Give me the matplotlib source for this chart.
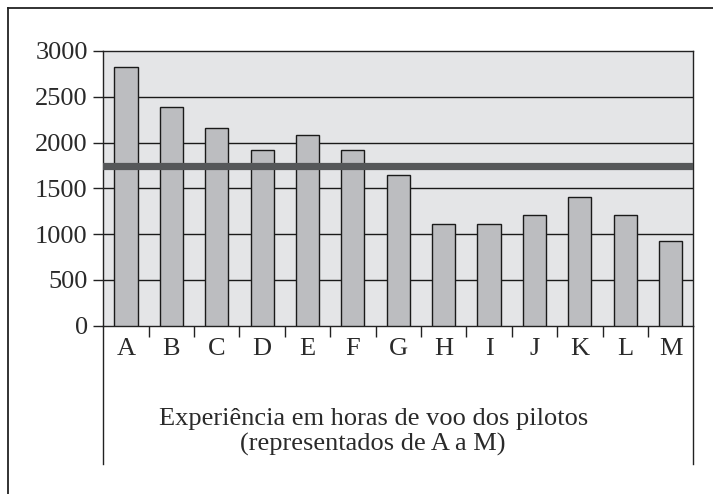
import matplotlib.pyplot as plt
from matplotlib.lines import Line2D
import numpy as np

# pilot flight hours
pilotos = ["A", "B", "C", "D", "E", "F", "G", "H", "I", "J", "K", "L", "M"]
horas = [2820, 2390, 2160, 1920, 2080, 1920, 1650, 1110, 1110, 1210, 1410, 1210, 920]
limite = 1740
y_ticks = [0, 500, 1000, 1500, 2000, 2500, 3000]
titulo = ["Experiência em horas de voo dos pilotos", "(representados de A a M)"]

plt.rcParams['font.family'] = ['Liberation Serif', 'DejaVu Serif']

W, H = 713, 494
fig = plt.figure(figsize=(W / 100, H / 100), dpi=100)
ax = fig.add_axes([103.3 / W, 1 - 325.7 / H, 590 / W, 274.7 / H])
ax.set_facecolor("#e4e5e7")

x = np.arange(len(pilotos))
ax.bar(x, horas, width=0.51, color="#bcbdc0", edgecolor="#1a1a1a", linewidth=1.0, zorder=3)
ax.axhline(limite, color="#555759", linewidth=5.2, zorder=4)

for v in y_ticks[1:-1]:
    ax.axhline(v, color="#1a1a1a", linewidth=1.0, zorder=1)

ax.set_xlim(-0.5, len(pilotos) - 0.5)
ax.set_ylim(0, 3000)
ax.set_yticks(y_ticks)
ax.set_yticklabels([str(v) for v in y_ticks], fontsize=19, color="#2a2a2a")
ax.set_xticks(x)
ax.set_xticklabels(pilotos, fontsize=19, color="#2a2a2a")
ax.set_xticks(np.arange(0.5, len(pilotos) - 1, 1.0), minor=True)
ax.tick_params(axis="x", which="major", length=0, pad=9)
ax.tick_params(axis="x", which="minor", length=8, width=1.0, direction="out", color="#222222")
ax.tick_params(axis="y", length=7.2, width=1.0, direction="out", pad=4, color="#222222")

for s in ax.spines.values():
    s.set_color("#222222")
    s.set_linewidth(1.0)

# vertical lines running down below the plot
for xp in (103.3, 693.3):
    fig.add_artist(Line2D([xp / W, xp / W], [1 - 325.7 / H, 1 - 464 / H], color="#222222", linewidth=1.0))

# outer frame (left and top)
fig.add_artist(Line2D([8 / W, 8 / W], [0, 1 - 8 / H], color="#222222", linewidth=1.3))
fig.add_artist(Line2D([8 / W, 1], [1 - 8 / H, 1 - 8 / H], color="#222222", linewidth=1.3))

fig.text(374 / W, 1 - 425 / H, titulo[0], ha="center", va="baseline", fontsize=19, color="#2a2a2a")
fig.text(373 / W, 1 - 451 / H, titulo[1], ha="center", va="baseline", fontsize=19, color="#2a2a2a")

fig.savefig("out.png", dpi=100)
